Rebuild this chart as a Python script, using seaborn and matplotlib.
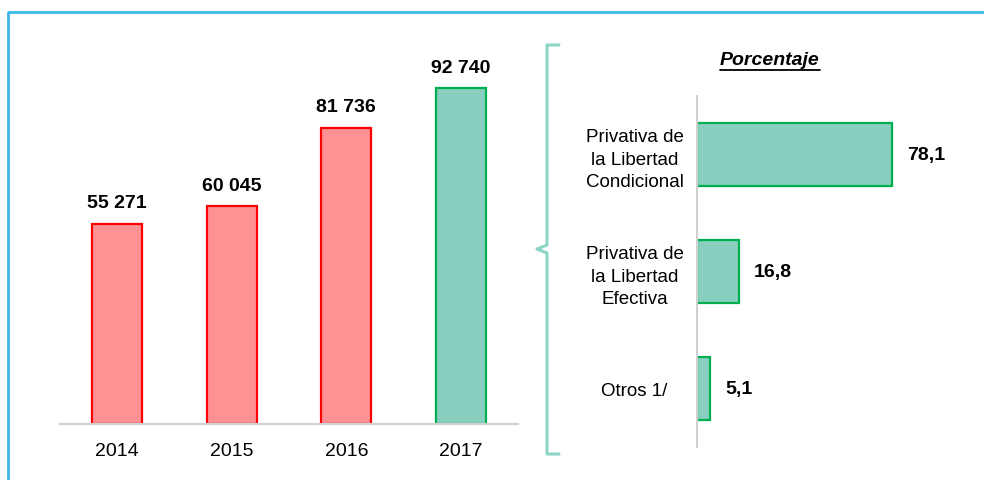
import matplotlib
matplotlib.use("Agg")
import matplotlib.pyplot as plt
import seaborn as sns
from matplotlib.lines import Line2D

# datos
anios = ["2014", "2015", "2016", "2017"]
casos = [55271, 60045, 81736, 92740]
colores_barras = ["#FF9194", "#FF9194", "#FF9194", "#88CFBF"]
bordes_barras = ["#FF0000", "#FF0000", "#FF0000", "#00B050"]

tipos = ["Privativa de\nla Libertad\nCondicional", "Privativa de\nla Libertad\nEfectiva", "Otros 1/"]
porcentajes = [78.1, 16.8, 5.1]

sns.set_style("white")
plt.rcParams["font.family"] = ["Liberation Sans Narrow", "Liberation Sans", "DejaVu Sans"]
plt.rcParams["text.color"] = "black"
plt.rcParams["xtick.color"] = "black"
plt.rcParams["ytick.color"] = "black"

W, H = 984, 481
fig = plt.figure(figsize=(W / 100, H / 100), dpi=100)

def rect(x0, y0, x1, y1):
    # pixeles (origen arriba-izquierda) -> fraccion de figura
    return [x0 / W, 1 - y1 / H, (x1 - x0) / W, (y1 - y0) / H]

# --- grafico de barras verticales ---
ax1 = fig.add_axes(rect(60, 40, 518, 425))
sns.barplot(x=anios, y=casos, hue=anios, palette=colores_barras, legend=False,
            width=0.44, ax=ax1, saturation=1)
for p, ec in zip(ax1.patches, bordes_barras):
    p.set_edgecolor(ec)
    p.set_linewidth(1.6)
ax1.set_ylim(0, 106270)
ax1.set_xlim(-0.5, 3.5)
for i, v in enumerate(casos):
    ax1.annotate(f"{v:,}".replace(",", " "), (i, v), xytext=(0, 9), textcoords="offset points",
                 ha="center", va="bottom", fontsize=14, fontweight="bold")
sns.despine(ax=ax1, left=True)
ax1.spines["bottom"].set_color("#D0D0D0")
ax1.spines["bottom"].set_linewidth(1.5)
ax1.set_yticks([])
ax1.set_xlabel("")
ax1.set_ylabel("")
ax1.tick_params(axis="x", length=0, labelsize=14, pad=13)

# --- grafico de barras horizontales ---
ax2 = fig.add_axes(rect(697, 97, 960, 448))
sns.barplot(x=porcentajes, y=tipos, color="#88CFBF", orient="h", width=0.53, ax=ax2, saturation=1)
for p in ax2.patches:
    p.set_edgecolor("#00B050")
    p.set_linewidth(1.6)
ax2.set_xlim(0, 105.3)
ax2.set_ylim(2.5, -0.5)
for i, v in enumerate(porcentajes):
    ax2.annotate(f"{v:.1f}".replace(".", ","), (v, i), xytext=(11, 0), textcoords="offset points",
                 ha="left", va="center", fontsize=14, fontweight="bold")
sns.despine(ax=ax2, bottom=True)
ax2.spines["left"].set_color("#D0D0D0")
ax2.spines["left"].set_linewidth(1.5)
ax2.set_xticks([])
ax2.set_xlabel("")
ax2.set_ylabel("")
ax2.tick_params(axis="y", length=0, labelsize=13.5, pad=45)
for t in ax2.get_yticklabels():
    t.set_horizontalalignment("center")
    t.set_multialignment("center")
    t.set_linespacing(1.4)

# titulo subrayado
tit = fig.text(770 / W, 1 - 61 / H, "Porcentaje", ha="center", va="center",
               fontsize=14, fontweight="bold", fontstyle="italic")
fig.canvas.draw()
bb = tit.get_window_extent()
fig.add_artist(Line2D([bb.x0 / W, bb.x1 / W], [(bb.y0 - 1) / H, (bb.y0 - 1) / H],
                      transform=fig.transFigure, color="black", lw=1.3))

# llave
bx = [559, 547, 547, 537, 547, 547, 559]
by = [46, 46, 246, 250, 254, 455, 455]
fig.add_artist(Line2D([x / W for x in bx], [1 - y / H for y in by],
                      transform=fig.transFigure, color="#8AD5C3", lw=2.2))

# marco
fig.add_artist(Line2D([8 / W, 8 / W, 1], [0, 1 - 13 / H, 1 - 13 / H],
                      transform=fig.transFigure, color="#3DB8E8", lw=2))

fig.savefig("out.png", dpi=100)
